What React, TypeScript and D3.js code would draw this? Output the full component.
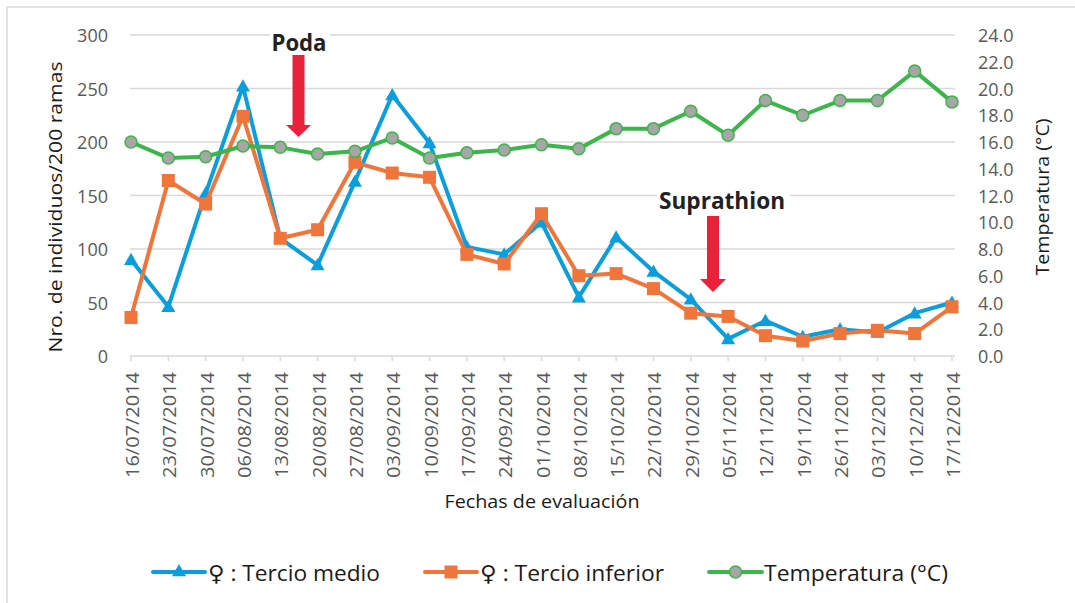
import React from "react";
import * as d3 from "d3";

const dates = [
  "16/07/2014", "23/07/2014", "30/07/2014", "06/08/2014", "13/08/2014", "20/08/2014",
  "27/08/2014", "03/09/2014", "10/09/2014", "17/09/2014", "24/09/2014", "01/10/2014",
  "08/10/2014", "15/10/2014", "22/10/2014", "29/10/2014", "05/11/2014", "12/11/2014",
  "19/11/2014", "26/11/2014", "03/12/2014", "10/12/2014", "17/12/2014",
];
const tercioMedio = [90, 46, 152, 252, 110, 85, 163, 244, 199, 102, 95, 125, 55, 111, 79, 53, 16, 33, 18, 25, 22, 40, 50];
const tercioInferior = [36, 164, 142, 224, 110, 118, 181, 171, 167, 95, 86, 133, 75, 77, 63, 40, 37, 19, 14, 21, 24, 21, 46];
const temperatura = [16.0, 14.8, 14.9, 15.7, 15.6, 15.1, 15.3, 16.3, 14.8, 15.2, 15.4, 15.8, 15.5, 17.0, 17.0, 18.3, 16.5, 19.1, 18.0, 19.1, 19.1, 21.3, 19.0];
const leftTicks = [0, 50, 100, 150, 200, 250, 300];
const rightTicks = [0, 2, 4, 6, 8, 10, 12, 14, 16, 18, 20, 22, 24];
const legendLabels = ["\u2640 : Tercio medio", "\u2640 : Tercio inferior", "Temperatura (\u00B0C)"];

const BLUE = "#0a9fdc";
const ORANGE = "#f0753a";
const GREEN = "#3cb54a";
const GRID = "#d9d9d9";
const LABEL = "#595959";
const FONT = "'Open Sans', 'DejaVu Sans', sans-serif";

export default function App() {
  const x = d3.scalePoint<string>().domain(dates).range([131, 952]);
  const yL = d3.scaleLinear().domain([0, 300]).range([356, 35]);
  const yR = d3.scaleLinear().domain([0, 24]).range([356, 35]);

  const lineL = (vals: number[]) =>
    d3.line<number>().x((_, i) => x(dates[i])!).y((v) => yL(v))(vals) || "";
  const lineR = (vals: number[]) =>
    d3.line<number>().x((_, i) => x(dates[i])!).y((v) => yR(v))(vals) || "";

  const tri = (cx: number, cy: number, s = 7) =>
    `M${cx},${cy - s} L${cx + s},${cy + s * 0.75} L${cx - s},${cy + s * 0.75} Z`;

  const legendY = 572;
  const legendItems = [
    { x1: 153, x2: 205, tx: 208, tw: 172, color: BLUE, kind: "tri" },
    { x1: 425, x2: 477, tx: 480, tw: 184, color: ORANGE, kind: "sq" },
    { x1: 709, x2: 762, tx: 764, tw: 184, color: GREEN, kind: "circ" },
  ];

  return (
    <svg
      width={1075}
      height={603}
      style={{ position: "absolute", left: 0, top: 0, background: "#fff" }}
      fontFamily={FONT}
    >
      <rect x={0} y={0} width={1075} height={603} fill="#fff" />
      {/* chart border */}
      <line x1={7} y1={7} x2={1075} y2={7} stroke={GRID} strokeWidth={1.5} />
      <line x1={7} y1={7} x2={7} y2={603} stroke={GRID} strokeWidth={1.5} />

      {/* gridlines */}
      {leftTicks.map((t) => (
        <line key={t} x1={130} x2={955} y1={yL(t)} y2={yL(t)} stroke={GRID} strokeWidth={1.5} />
      ))}
      {/* x ticks */}
      {dates.map((d) => (
        <line key={d} x1={x(d)!} x2={x(d)!} y1={356} y2={361} stroke={GRID} strokeWidth={1.5} />
      ))}

      {/* left tick labels */}
      {leftTicks.map((t) => (
        <text key={t} x={108} y={yL(t)} textAnchor="end" dominantBaseline="central" fontSize={18} fill={LABEL}>
          {t}
        </text>
      ))}
      {/* right tick labels */}
      {rightTicks.map((t) => (
        <text key={t} x={978} y={yR(t)} textAnchor="start" dominantBaseline="central" fontSize={18} fill={LABEL}>
          {t.toFixed(1)}
        </text>
      ))}
      {/* x tick labels */}
      {dates.map((d) => (
        <text
          key={d}
          transform={`translate(${x(d)! + 1},372) rotate(-90)`}
          textAnchor="end"
          dominantBaseline="central"
          fontSize={18}
          fill={LABEL}
          textLength={106}
          lengthAdjust="spacingAndGlyphs"
        >
          {d}
        </text>
      ))}

      {/* axis titles */}
      <text
        transform="translate(55,207) rotate(-90)"
        textAnchor="middle"
        dominantBaseline="central"
        fontSize={18}
        fill="#1a1a1a"
        textLength={291}
        lengthAdjust="spacingAndGlyphs"
      >
        Nro. de individuos/200 ramas
      </text>
      <text
        transform="translate(1042,197) rotate(-90)"
        textAnchor="middle"
        dominantBaseline="central"
        fontSize={18}
        fill="#1a1a1a"
        textLength={157}
        lengthAdjust="spacingAndGlyphs"
      >
        Temperatura (°C)
      </text>
      <text x={542} y={508} textAnchor="middle" fontSize={18} fill="#1a1a1a" textLength={195} lengthAdjust="spacingAndGlyphs">
        Fechas de evaluación
      </text>

      {/* series: tercio medio */}
      <path d={lineL(tercioMedio)} fill="none" stroke={BLUE} strokeWidth={4} strokeLinejoin="round" />
      {tercioMedio.map((v, i) => (
        <path key={i} d={tri(x(dates[i])!, yL(v))} fill={BLUE} />
      ))}
      {/* series: tercio inferior */}
      <path d={lineL(tercioInferior)} fill="none" stroke={ORANGE} strokeWidth={4} strokeLinejoin="round" />
      {tercioInferior.map((v, i) => (
        <rect key={i} x={x(dates[i])! - 6.5} y={yL(v) - 6.5} width={13} height={13} fill={ORANGE} />
      ))}
      {/* series: temperatura */}
      <path d={lineR(temperatura)} fill="none" stroke={GREEN} strokeWidth={4} strokeLinejoin="round" />
      {temperatura.map((v, i) => (
        <circle key={i} cx={x(dates[i])!} cy={yR(v)} r={6} fill="#a6a6a6" stroke={GREEN} strokeWidth={1.5} />
      ))}

      {/* annotation: Poda */}
      <rect x={270} y={28} width={60} height={26} fill="#fff" />
      <text x={299} y={51} textAnchor="middle" fontSize={24} fontWeight="bold" fill="#222" textLength={55} lengthAdjust="spacingAndGlyphs">
        Poda
      </text>
      <path d="M292.5,55 L304.5,55 L304.5,125 L311,125 L298.5,137 L286,125 L292.5,125 Z" fill="#ea213b" />

      {/* annotation: Suprathion */}
      <rect x={657} y={184} width={133} height={28} fill="#fff" />
      <text x={722} y={209} textAnchor="middle" fontSize={23} fontWeight="bold" fill="#222" textLength={126} lengthAdjust="spacingAndGlyphs">
        Suprathion
      </text>
      <path d="M707,216 L719,216 L719,279 L726,279 L713,292 L700,279 L707,279 Z" fill="#ea213b" />

      {/* legend */}
      {legendItems.map((it, i) => {
        const mx = (it.x1 + it.x2) / 2;
        return (
          <g key={i}>
            <line x1={it.x1} x2={it.x2} y1={legendY} y2={legendY} stroke={it.color} strokeWidth={4} strokeLinecap="round" />
            {it.kind === "tri" && <path d={tri(mx, legendY - 1)} fill={it.color} />}
            {it.kind === "sq" && <rect x={mx - 6.5} y={legendY - 6.5} width={13} height={13} fill={it.color} />}
            {it.kind === "circ" && <circle cx={mx} cy={legendY} r={6} fill="#a6a6a6" stroke={it.color} strokeWidth={1.5} />}
            <text x={it.tx} y={legendY} dominantBaseline="central" fontSize={22} fill="#1a1a1a" textLength={it.tw} lengthAdjust="spacingAndGlyphs">
              {legendLabels[i]}
            </text>
          </g>
        );
      })}
    </svg>
  );
}
